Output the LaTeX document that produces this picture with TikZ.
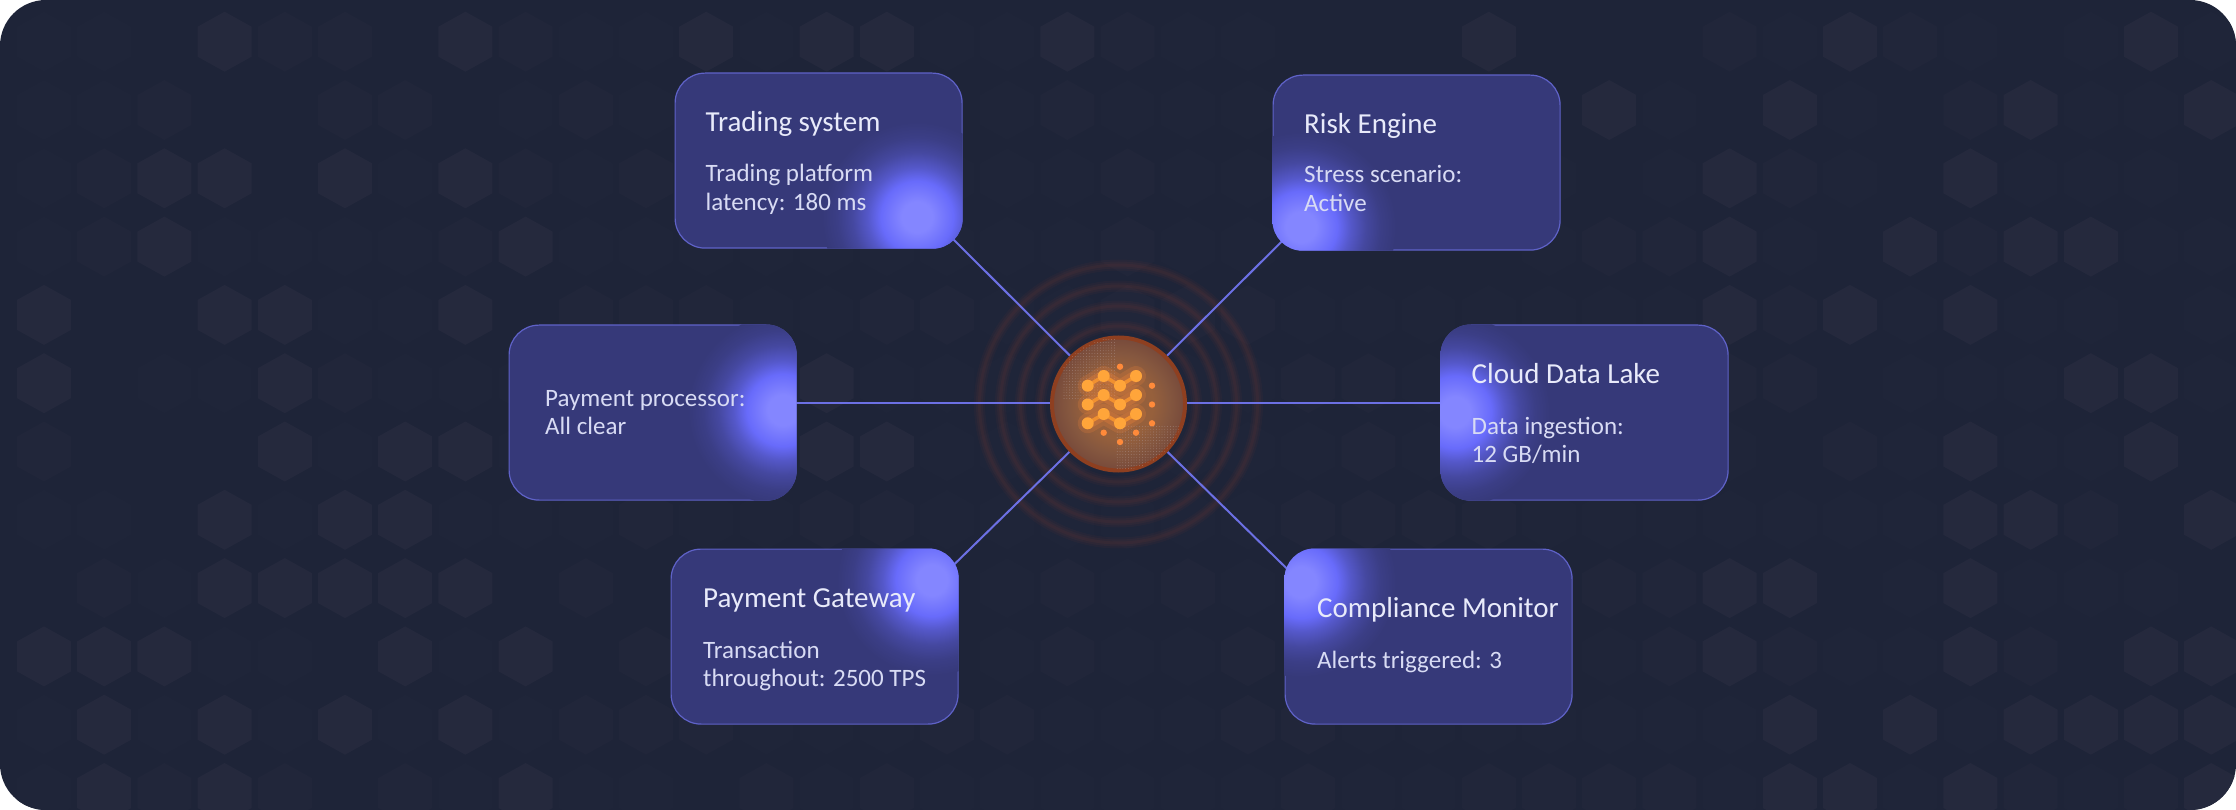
\documentclass[tikz,border=0pt]{standalone}
\usepackage{fontspec}
\setmainfont{Carlito}
\usetikzlibrary{backgrounds, patterns.meta}

\definecolor{panelbg}{HTML}{1E2438}
\definecolor{hexc0}{HTML}{1E2438}
\definecolor{hexc1}{HTML}{1F2539}
\definecolor{hexc2}{HTML}{21263A}
\definecolor{hexc3}{HTML}{25293D}
\definecolor{cardfill}{HTML}{363979}
\definecolor{cardedge}{HTML}{5F62C8}
\definecolor{glowcore}{HTML}{8486FF}
\definecolor{glowmid}{HTML}{686BFB}
\colorlet{glowa}{glowmid!62!cardfill}
\colorlet{glowb}{glowmid!30!cardfill}
\colorlet{glowc}{glowmid!10!cardfill}
\definecolor{linkblue}{HTML}{6C70E4}
\definecolor{titletext}{HTML}{E8EAFA}
\definecolor{bodytext}{HTML}{D8DBF4}
\definecolor{hubedge}{HTML}{8E3F20}
\definecolor{hubin}{HTML}{96603C}
\definecolor{hubmid}{HTML}{85573F}
\definecolor{hubout}{HTML}{774A3B}
\definecolor{ringred}{HTML}{FF5A30}
\definecolor{waveorange}{HTML}{FFA53A}
\definecolor{wavelink}{HTML}{F09030}
\definecolor{dotorange}{HTML}{FF8A3A}

\pgfdeclareradialshading{cardglow}{\pgfpoint{0bp}{0bp}}{color(0bp)=(glowcore); color(4bp)=(glowcore); color(9.5bp)=(glowmid); color(13bp)=(glowa); color(17bp)=(glowb); color(21bp)=(glowc); color(25bp)=(cardfill); color(50bp)=(cardfill)}
\pgfdeclareradialshading{hubglow}{\pgfpoint{0bp}{0bp}}{color(0bp)=(hubin); color(13bp)=(hubin); color(19bp)=(hubmid); color(25bp)=(hubout); color(50bp)=(hubout)}

\tikzset{
    card/.style={rectangle, draw=cardedge, line width=1.2pt, fill=cardfill, rounded corners=30pt,
        minimum width=287pt, minimum height=175pt, anchor=north west, inner sep=0pt},
    cardtitle/.style={anchor=base west, inner sep=0pt, text=titletext, font=\fontsize{29}{29}\selectfont},
    cardbody/.style={anchor=base west, inner sep=0pt, align=left, text=bodytext, font=\fontsize{25}{28.5}\selectfont},
    link/.style={draw=linkblue, line width=2pt, shorten >=-16pt},
    hubnode/.style={circle, draw=hubedge, line width=4pt, minimum size=133pt, inner sep=0pt, shading=hubglow},
}

\newcommand{\cardglow}[3]{%
    \begin{scope}
        \clip[rounded corners=30pt] (#1.north west) rectangle (#1.south east);
        \shade[shading=cardglow] (#2,#3) circle (95pt);
    \end{scope}
}

\begin{document}
\begin{tikzpicture}[x=1pt, y=-1pt]
    \useasboundingbox (0,0) rectangle (2236,810);

    \begin{pgfonlayer}{background}
        \fill[white] (0,0) rectangle (2236,810);
        \fill[panelbg, rounded corners=46pt] (0,0) rectangle (2236,810);
        \begin{scope}
            \clip[rounded corners=46pt] (0,0) rectangle (2236,810);
            \foreach \row [count=\j from 0] in {
                {1,1,0,3,2,2,0,3,2,1,1,3,1,3,3,1,1,3,2,1,1,0,0,0,3,0,0,0,2,1,3,2,1,0,1,3,1},
                {1,1,2,0,0,2,2,0,1,2,1,0,0,0,0,0,1,2,1,1,1,0,0,0,0,0,3,1,0,3,1,0,2,3,1,1,3},
                {1,2,3,3,0,3,1,3,2,1,2,0,0,0,0,1,1,1,2,1,1,0,0,0,0,1,0,1,3,2,1,0,3,1,1,1,0},
                {1,2,3,1,1,1,1,2,3,1,1,1,1,1,1,1,1,1,2,1,1,0,0,0,0,1,2,2,3,1,0,3,2,3,3,1,1},
                {3,0,0,3,3,1,1,3,0,2,2,2,1,1,2,2,1,1,2,2,2,1,1,1,1,1,1,1,3,2,3,1,3,1,1,0,1},
                {3,0,1,1,3,2,1,1,1,0,0,0,0,3,1,1,1,1,1,1,1,2,2,1,0,0,0,0,2,2,0,1,1,1,3,3,1},
                {2,0,0,0,3,1,3,3,1,0,0,0,0,3,3,1,1,1,1,1,1,1,2,1,0,0,0,0,1,0,2,1,3,1,1,3,0},
                {1,1,0,3,1,3,3,1,1,1,2,1,1,2,2,1,1,1,1,1,1,2,2,2,2,1,1,1,1,1,1,1,3,3,2,0,3},
                {0,2,1,3,3,3,3,3,0,2,0,0,0,0,0,0,1,2,1,2,1,0,0,0,0,0,2,2,3,3,0,1,3,1,1,1,0},
                {3,3,3,1,1,0,3,1,3,0,2,0,0,0,0,0,1,2,1,1,2,0,0,0,0,0,1,2,3,2,1,1,3,2,0,3,3},
                {1,3,1,3,1,3,1,3,1,2,2,2,1,1,1,2,2,1,1,1,2,2,1,1,1,1,1,1,1,3,0,3,1,3,3,3,3},
                {1,3,2,3,2,0,2,1,3,1,1,0,2,1,2,1,1,1,1,1,1,2,1,1,2,2,2,2,1,3,3,1,3,2,1,2,3}}
            {
                \foreach \lvl [count=\i from 0] in \row {
                    \fill[hexc\lvl] ({44+60.2*\i},{11.7+68.3*\j}) -- ++(27,15) -- ++(0,30) -- ++(-27,15) -- ++(-27,-15) -- ++(0,-30) -- cycle;
                }
            }
        \end{scope}
        \foreach \r in {78,98,118,139} {
            \draw[ringred, opacity=0.035, line width=11pt] (1118.5,404) circle (\r);
            \draw[ringred, opacity=0.04, line width=7pt] (1118.5,404) circle (\r);
            \draw[ringred, opacity=0.04, line width=3pt] (1118.5,404) circle (\r);
        }
    \end{pgfonlayer}

    \node[card] (trading) at (674.5,72.5) {};
    \node[card] (risk) at (1272.5,74.5) {};
    \node[card] (processor) at (508.5,324.5) {};
    \node[card] (lake) at (1440.5,324.5) {};
    \node[card] (gateway) at (670.5,548.5) {};
    \node[card] (compliance) at (1284.5,548.5) {};
    \node[hubnode] (hub) at (1118.5,404) {};

    \begin{pgfonlayer}{background}
        \draw[link] (hub) -- (trading.south east);
        \draw[link] (hub) -- (risk.south west);
        \draw[link] (hub.179) -- (hub.179 -| processor.east);
        \draw[link] (hub.1) -- (hub.1 -| lake.west);
        \draw[link] (hub) -- (gateway.28);
        \draw[link] (hub) -- (compliance.154);
    \end{pgfonlayer}

    \cardglow{trading}{917}{217}
    \cardglow{risk}{1301}{227}
    \cardglow{processor}{783}{410}
    \cardglow{lake}{1455}{412}
    \cardglow{gateway}{932}{580}
    \cardglow{compliance}{1301}{582}

    \node[cardtitle] (tradingtitle) at (705.5,132) {Trading system};
    \node[cardbody] (tradingbody) at (705.5,210.5) {Trading platform\\latency: 180 ms};
    \node[cardtitle] (risktitle) at (1304,133.5) {Risk Engine};
    \node[cardbody] (riskbody) at (1304,211.5) {Stress scenario:\\Active};
    \node[cardbody] (processorbody) at (545,434.5) {Payment processor:\\All clear};
    \node[cardtitle] (laketitle) at (1471.5,383.5) {Cloud Data Lake};
    \node[cardbody] (lakebody) at (1471.5,462.5) {Data ingestion:\\12 GB/min};
    \node[cardtitle] (gatewaytitle) at (703,607.5) {Payment Gateway};
    \node[cardbody] (gatewaybody) at (703,686.5) {Transaction\\throughout: 2500 TPS};
    \node[cardtitle] (compliancetitle) at (1317,617.5) {Compliance Monitor};
    \node[cardbody] (compliancebody) at (1317,668.5) {Alerts triggered: 3};

    \begin{scope}
        \clip (1118.5,404) circle (66.5);
        \fill[pattern={Dots[distance=2.8pt, radius=0.4pt]}, pattern color=hubout!65!white] (1062,340) rectangle (1115,398);
        \fill[pattern={Dots[distance=2.8pt, radius=0.4pt]}, pattern color=hubout!65!white] (1115,424) rectangle (1185,470);
    \end{scope}

    \foreach \r in {0,1,2} {
        \draw[dotorange, opacity=0.18, line width=20pt, line cap=round, line join=round] (1087.7,{385.7+18.8*\r}) -- (1103.7,{376+19*\r}) -- (1120,{385.7+18.8*\r}) -- (1136,{376+19*\r});
        \draw[dotorange, opacity=0.25, line width=12pt, line cap=round, line join=round] (1087.7,{385.7+18.8*\r}) -- (1103.7,{376+19*\r}) -- (1120,{385.7+18.8*\r}) -- (1136,{376+19*\r});
        \draw[wavelink, line width=3.5pt, line join=round] (1087.7,{385.7+18.8*\r}) -- (1103.7,{376+19*\r}) -- (1120,{385.7+18.8*\r}) -- (1136,{376+19*\r});
        \foreach \x in {1087.7,1120} {
            \fill[waveorange] (\x,{385.7+18.8*\r}) circle (6);
        }
        \foreach \x in {1103.7,1136} {
            \fill[waveorange] (\x,{376+19*\r}) circle (6);
        }
        \fill[dotorange] (1152,{385.7+18.8*\r}) circle (3.2);
    }
    \foreach \x/\y in {1120/366.7, 1103.7/432.7, 1136/432.7, 1120/442} {
        \fill[dotorange] (\x,\y) circle (3.2);
    }
\end{tikzpicture}
\end{document}
